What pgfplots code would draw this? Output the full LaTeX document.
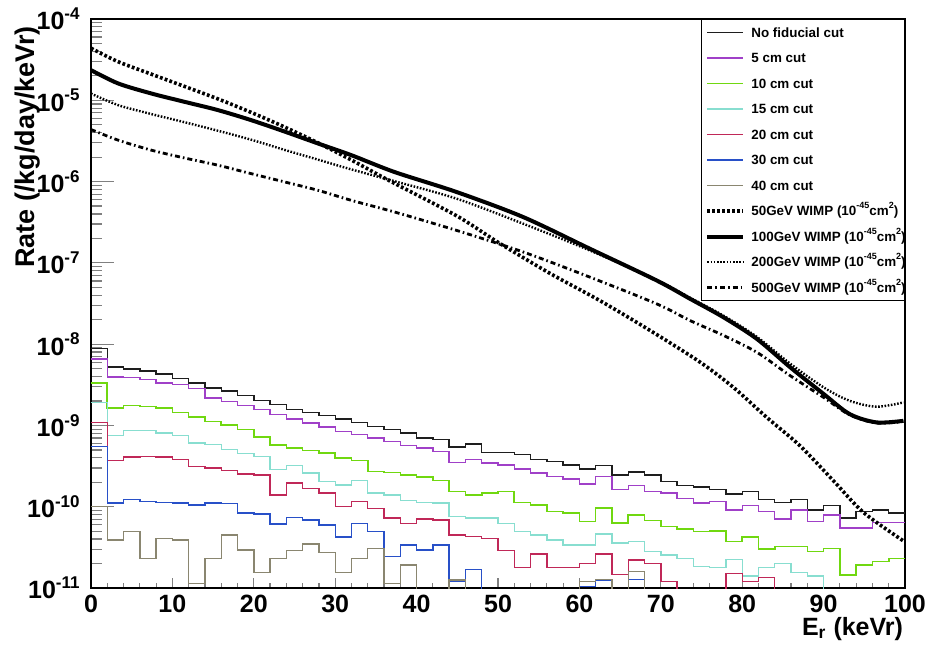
\documentclass[border=0pt]{standalone}
\usepackage{fontspec}
\setmainfont{Liberation Sans}
\usepackage{pgfplots}
\usepackage{pgfplotstable}
\pgfplotsset{compat=1.18}
\definecolor{cnofid}{HTML}{1E1E1E}
\definecolor{cfive}{HTML}{A040C8}
\definecolor{cten}{HTML}{70D810}
\definecolor{cfifteen}{HTML}{88DED0}
\definecolor{ctwenty}{HTML}{C02858}
\definecolor{cthirty}{HTML}{2850C8}
\definecolor{cforty}{HTML}{8A8670}
\newcommand{\ysup}[1]{\raisebox{0.42em}{\fontsize{8.5}{9}\selectfont\bfseries #1}}
\newcommand{\lsup}[1]{\raisebox{0.5em}{\fontsize{4.5}{5}\selectfont\bfseries #1}}
\newcommand{\lent}[1]{\makebox[73pt][l]{#1}}

\pgfplotstableread{
x nofid c5 c10 c15 c20 c30 c40
0 8.77e-9 6.60e-9 3.30e-9 1.90e-9 1.09e-9 5.50e-10 1.00e-10
2 5.26e-9 3.95e-9 1.64e-9 7.48e-10 3.72e-10 1.11e-10 3.91e-11
4 4.97e-9 3.92e-9 1.75e-9 8.63e-10 4.08e-10 1.22e-10 4.94e-11
6 4.65e-9 3.66e-9 1.72e-9 8.63e-10 4.16e-10 1.16e-10 2.32e-11
8 4.31e-9 3.33e-9 1.64e-9 8.07e-10 4.08e-10 1.13e-10 4.09e-11
10 3.78e-9 3.18e-9 1.45e-9 7.48e-10 3.78e-10 1.11e-10 3.91e-11
12 3.33e-9 2.84e-9 1.27e-9 6.08e-10 3.13e-10 1.05e-10 1.14e-11
14 2.90e-9 2.18e-9 1.12e-9 5.79e-10 2.99e-10 1.11e-10 2.32e-11
16 2.64e-9 1.98e-9 1.02e-9 5.02e-10 2.80e-10 1.09e-10 4.50e-11
18 2.33e-9 1.75e-9 8.87e-10 4.49e-10 2.54e-10 8.34e-11 2.94e-11
20 2.04e-9 1.57e-9 7.21e-10 4.16e-10 2.47e-10 8.17e-11 1.55e-11
22 1.80e-9 1.36e-9 5.79e-10 2.85e-10 1.40e-10 6.10e-11 2.32e-11
24 1.57e-9 1.20e-9 5.27e-10 3.19e-10 1.95e-10 7.43e-11 2.88e-11
26 1.45e-9 1.07e-9 4.93e-10 2.59e-10 1.69e-10 6.89e-11 3.48e-11
28 1.33e-9 9.57e-10 4.57e-10 2.05e-10 1.47e-10 5.98e-11 2.72e-11
30 1.20e-9 8.45e-10 3.97e-10 1.86e-10 1.01e-10 4.22e-11 1.55e-11
32 1.09e-9 7.69e-10 3.72e-10 2.10e-10 1.16e-10 6.27e-11 2.32e-11
34 9.75e-10 7.00e-10 2.72e-10 1.47e-10 9.59e-11 4.94e-11 3.08e-11
36 8.87e-10 6.37e-10 2.64e-10 1.40e-10 7.23e-11 2.43e-11 1.14e-11
38 8.07e-10 5.64e-10 2.47e-10 1.19e-10 6.27e-11 3.39e-11 1.92e-11
40 7.00e-10 5.27e-10 2.31e-10 1.13e-10 7.03e-11 2.94e-11 1.00e-12
42 6.68e-10 4.80e-10 2.10e-10 1.11e-10 6.89e-11 3.39e-11 1.00e-12
44 5.42e-10 3.51e-10 1.54e-10 7.57e-11 4.50e-11 1.20e-11 1.25e-11
46 5.90e-10 3.78e-10 1.40e-10 7.23e-11 4.30e-11 1.70e-11 1.00e-12
48 4.67e-10 3.44e-10 1.47e-10 7.23e-11 4.09e-11 1.00e-12 1.00e-12
50 4.67e-10 3.28e-10 1.54e-10 6.27e-11 2.88e-11 1.00e-12 1.00e-12
52 4.37e-10 2.90e-10 1.13e-10 4.94e-11 1.80e-11 1.00e-12 1.00e-12
54 3.78e-10 2.59e-10 1.05e-10 4.50e-11 2.62e-11 1.00e-12 1.00e-12
56 3.61e-10 2.36e-10 8.73e-11 3.91e-11 1.80e-11 1.00e-12 1.00e-12
58 3.28e-10 2.19e-10 8.34e-11 3.39e-11 1.80e-11 1.00e-12 1.00e-12
60 2.90e-10 1.91e-10 6.58e-11 3.39e-11 2.01e-11 1.04e-11 1.20e-11
62 3.22e-10 2.36e-10 9.59e-11 4.63e-11 2.62e-11 1.25e-11 1.28e-11
64 2.47e-10 1.64e-10 6.27e-11 3.56e-11 1.47e-11 1.00e-12 1.00e-12
66 2.67e-10 1.81e-10 7.94e-11 3.72e-11 2.21e-11 1.28e-11 1.59e-11
68 2.47e-10 1.54e-10 6.76e-11 2.81e-11 2.01e-11 1.00e-12 1.00e-12
70 2.05e-10 1.47e-10 5.70e-11 2.55e-11 1.20e-11 1.00e-12 1.00e-12
72 1.81e-10 1.27e-10 5.28e-11 2.32e-11 1.00e-12 1.00e-12 1.00e-12
74 1.74e-10 1.11e-10 4.94e-11 1.83e-11 1.00e-12 1.00e-12 1.00e-12
76 1.64e-10 1.16e-10 5.05e-11 1.80e-11 1.00e-12 1.00e-12 1.00e-12
78 1.44e-10 9.16e-11 3.72e-11 2.25e-11 1.52e-11 1.00e-12 1.00e-12
80 1.54e-10 1.03e-10 4.22e-11 1.41e-11 1.20e-11 1.00e-12 1.00e-12
82 1.22e-10 8.73e-11 3.00e-11 1.80e-11 1.35e-11 1.00e-12 1.00e-12
84 1.13e-10 7.03e-11 3.23e-11 2.01e-11 1.00e-12 1.00e-12 1.00e-12
86 1.22e-10 9.16e-11 3.23e-11 1.55e-11 1.00e-12 1.00e-12 1.00e-12
88 9.16e-11 6.58e-11 2.81e-11 1.41e-11 1.00e-12 1.00e-12 1.00e-12
90 1.03e-10 7.94e-11 3.08e-11 1.00e-12 1.00e-12 1.00e-12 1.00e-12
92 7.23e-11 5.45e-11 1.45e-11 1.00e-12 1.00e-12 1.00e-12 1.00e-12
94 8.73e-11 5.45e-11 1.92e-11 1.00e-12 1.00e-12 1.00e-12 1.00e-12
96 9.16e-11 6.38e-11 2.11e-11 1.00e-12 1.00e-12 1.00e-12 1.00e-12
98 8.34e-11 6.38e-11 2.32e-11 1.00e-12 1.00e-12 1.00e-12 1.00e-12
100 8.34e-11 6.38e-11 2.32e-11 1.00e-12 1.00e-12 1.00e-12 1.00e-12
}\hist

\begin{document}
\begin{tikzpicture}
\begin{axis}[
  scale only axis, width=407pt, height=284.5pt,
  xmin=0, xmax=100, ymode=log, ymin=1e-11, ymax=1e-4,
  axis line style={line width=0.8pt},
  tick pos=left, tick align=inside,
  xtick={0,10,20,30,40,50,60,70,80,90,100},
  xticklabels={0,10,20,30,40,50,60,70,80,90,100},
  minor x tick num=4,
  ytick={1e-11,1e-10,1e-9,1e-8,1e-7,1e-6,1e-5,1e-4},
  yticklabels={10\ysup{-11},10\ysup{-10},10\ysup{-9},10\ysup{-8},10\ysup{-7},10\ysup{-6},10\ysup{-5},10\ysup{-4}},
  xtick style={line width=0.6pt, /pgfplots/major tick length=5pt, /pgfplots/minor tick length=2.5pt},
  ytick style={line width=0.6pt, /pgfplots/major tick length=11.5pt, /pgfplots/minor tick length=5.5pt},
  ticklabel style={font=\fontsize{12.5}{13}\selectfont\bfseries},
  xticklabel style={inner sep=0pt, yshift=-3.5pt, anchor=north},
  yticklabel style={inner sep=0pt, xshift=-5.5pt, anchor=east},
  xlabel={E\textsubscript{r} (keVr)},
  ylabel={Rate (/kg/day/keVr)},
  xlabel style={font=\fontsize{12.5}{13}\selectfont\bfseries, inner sep=0pt,
    at={(axis description cs:0.998,-0.0826)}, anchor=base east},
  ylabel style={font=\fontsize{13.5}{14}\selectfont\bfseries,
    at={(axis description cs:-0.0774,1.0)}, anchor=east},
  legend style={at={(1,1)}, anchor=north east, draw=black, line width=0.6pt, fill=white,
    font=\fontsize{6.7}{8}\selectfont\bfseries, inner xsep=2pt, inner ysep=1.25pt,
    row sep=2.25pt, column sep=1.5pt,
    nodes={inner sep=1.5pt, text height=6pt, text depth=1.5pt}},
  legend cell align=left,
  legend image code/.code={\draw[#1] (0pt,0pt) -- (18pt,0pt);},
]
\addplot[const plot, color=cnofid, line width=0.7pt] table[x=x,y=nofid] {\hist};
\addlegendentry{\lent{No fiducial cut}}
\addplot[const plot, color=cfive, line width=0.7pt] table[x=x,y=c5] {\hist};
\addlegendentry{\lent{5 cm cut}}
\addplot[const plot, color=cten, line width=0.8pt] table[x=x,y=c10] {\hist};
\addlegendentry{\lent{10 cm cut}}
\addplot[const plot, color=cfifteen, line width=0.7pt] table[x=x,y=c15] {\hist};
\addlegendentry{\lent{15 cm cut}}
\addplot[const plot, color=ctwenty, line width=0.7pt] table[x=x,y=c20] {\hist};
\addlegendentry{\lent{20 cm cut}}
\addplot[const plot, color=cthirty, line width=0.7pt] table[x=x,y=c30] {\hist};
\addlegendentry{\lent{30 cm cut}}
\addplot[const plot, color=cforty, line width=0.7pt] table[x=x,y=c40] {\hist};
\addlegendentry{\lent{40 cm cut}}

\addplot[black, line width=1.8pt, dash pattern=on 1.4pt off 1.1pt, smooth, tension=0.5] coordinates {
(0,4.37e-5) (3.35,2.98e-5) (7.45,2.09e-5) (11.5,1.48e-5) (15.6,1.04e-5) (19.7,7.08e-6)
(23.8,4.68e-6) (27.9,2.99e-6) (32.0,1.84e-6) (36.7,1.02e-6) (44.9,3.80e-7) (50.2,1.74e-7)
(56.4,7.41e-8) (62.5,3.44e-8) (68.7,1.47e-8) (74.8,6.03e-9) (78.9,2.95e-9) (83.0,1.26e-9)
(87.1,5.62e-10) (91.2,2.09e-10) (94.9,8.51e-11) (99.8,3.80e-11)};
\addlegendentry{\lent{50GeV WIMP (10\lsup{-45}cm\lsup{2})}}
\addplot[black, line width=2pt, smooth, tension=0.5] coordinates {
(0,2.35e-5) (3.35,1.61e-5) (7.45,1.21e-5) (11.5,9.57e-6) (15.6,7.57e-6) (19.7,5.69e-6)
(23.8,4.12e-6) (27.9,2.94e-6) (32.0,2.11e-6) (37.3,1.31e-6) (44.9,7.45e-7) (53.1,3.66e-7)
(61.3,1.49e-7) (69.5,6.07e-8) (73.6,3.61e-8) (77.7,2.14e-8) (81.8,1.16e-8) (85.9,5.19e-9)
(90.0,2.44e-9) (93.2,1.38e-9) (96.5,1.09e-9) (99.8,1.14e-9)};
\addlegendentry{\lent{100GeV WIMP (10\lsup{-45}cm\lsup{2})}}
\addplot[black, line width=1.2pt, dash pattern=on 0.8pt off 0.8pt, smooth, tension=0.5] coordinates {
(0,1.21e-5) (3.35,8.71e-6) (7.45,6.76e-6) (11.5,5.37e-6) (15.6,4.22e-6) (19.7,3.27e-6)
(23.8,2.45e-6) (27.9,1.86e-6) (32.0,1.41e-6) (37.3,1.01e-6) (44.9,6.17e-7) (53.1,3.03e-7)
(61.3,1.42e-7) (69.5,6.17e-8) (73.6,3.72e-8) (77.7,2.24e-8) (81.8,1.23e-8) (85.9,5.75e-9)
(90.0,2.94e-9) (93.2,2.01e-9) (96.5,1.70e-9) (99.8,1.92e-9)};
\addlegendentry{\lent{200GeV WIMP (10\lsup{-45}cm\lsup{2})}}
\addplot[black, line width=1.4pt, dash pattern=on 2.5pt off 1.5pt on 0.8pt off 1.5pt, smooth, tension=0.5] coordinates {
(0,4.37e-6) (3.35,3.23e-6) (7.45,2.43e-6) (11.5,1.95e-6) (15.6,1.59e-6) (19.7,1.25e-6)
(23.8,9.89e-7) (27.9,7.80e-7) (32.0,5.87e-7) (37.3,4.22e-7) (44.9,2.51e-7) (53.1,1.36e-7)
(61.3,6.67e-8) (69.5,3.13e-8) (73.6,1.95e-8) (77.7,1.28e-8) (81.8,7.94e-9) (85.9,4.09e-9)
(90.0,2.21e-9) (93.2,1.35e-9) (96.5,1.07e-9) (99.8,1.12e-9)};
\addlegendentry{\lent{500GeV WIMP (10\lsup{-45}cm\lsup{2})}}
\end{axis}
\pgfresetboundingbox
\path[use as bounding box] ([shift={(-45.5pt,-30.5pt)}]current axis.south west) rectangle ([shift={(12.5pt,9.5pt)}]current axis.north east);
\end{tikzpicture}
\end{document}
